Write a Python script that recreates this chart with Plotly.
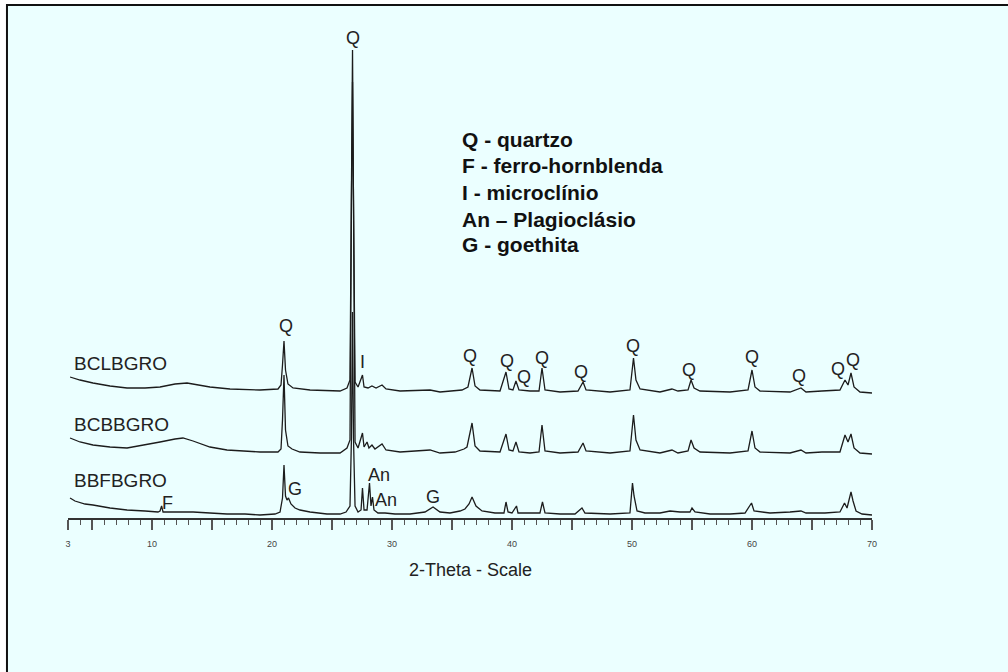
import plotly.graph_objects as go

# X-ray diffraction patterns (2-theta in degrees, intensity in arbitrary counts)
bbf_2theta = [3.17, 3.58, 4.42, 5.08, 6.5, 7.92, 9.42, 10.5, 10.67, 10.8, 10.92, 12.33, 13.42,
              14.83, 16.25, 17.75, 19.0, 20.25, 20.67, 20.875, 21.0, 21.125, 21.25, 21.375,
              21.58, 21.92, 22.33, 23.17, 24.58, 25.67, 26.17, 26.5, 26.62, 26.71, 26.79,
              26.92, 27.17, 27.42, 27.54, 27.67, 27.92, 28.125, 28.25, 28.375, 28.5, 28.83,
              29.42, 30.25, 31.5, 32.75, 33.42, 34.0, 34.83, 35.67, 36.08, 36.42, 36.67,
              37.0, 37.5, 38.58, 39.33, 39.5, 39.67, 40.0, 40.375, 40.5, 41.5, 42.33, 42.54,
              42.75, 44.0, 45.25, 45.83, 46.08, 48.17, 49.83, 50.04, 50.17, 50.42, 51.08,
              52.33, 53.17, 54.0, 54.83, 55.0, 55.25, 56.5, 58.17, 59.42, 59.96, 60.17,
              61.5, 63.17, 64.08, 64.5, 66.08, 67.33, 67.71, 67.92, 68.25, 68.42, 68.67,
              69.17, 70.0]
bbf_counts = [20, 17, 14, 13, 10, 8, 7, 6, 7, 12, 6, 6, 6,
              5, 4, 4, 3, 4, 6, 20, 53, 22, 18, 20,
              14, 10, 8, 6, 4, 4, 6, 12, 80, 206, 80,
              12, 6, 8, 30, 8, 8, 35, 12, 21, 8, 5,
              5, 4, 4, 6, 11, 6, 5, 7, 9, 14, 21,
              12, 7, 5, 5, 16, 6, 5, 12, 5, 5, 5, 16,
              5, 4, 4, 10, 5, 4, 5, 35, 22, 7, 5,
              5, 7, 6, 6, 10, 6, 4, 4, 5, 15, 7,
              5, 6, 7, 5, 5, 6, 15, 10, 26, 17, 7,
              4, 3]

bcb_2theta = [3.17, 4.0, 5.08, 6.5, 7.92, 9.42, 10.67, 11.92, 12.58, 13.42, 14.83, 16.25,
              17.75, 19.0, 20.5, 20.75, 20.875, 21.0, 21.125, 21.33, 21.67, 22.33, 24.0,
              25.67, 26.25, 26.5, 26.62, 26.71, 26.79, 26.92, 27.17, 27.54, 27.67, 27.92,
              28.08, 28.33, 28.58, 29.17, 29.5, 30.67, 33.17, 34.0, 35.25, 36.0, 36.25,
              36.67, 36.92, 37.33, 39.0, 39.5, 39.75, 40.08, 40.33, 40.58, 41.5, 42.25,
              42.5, 42.75, 44.0, 45.5, 45.92, 46.17, 48.17, 49.83, 50.125, 50.33, 50.67,
              52.33, 53.33, 53.83, 54.67, 54.92, 55.17, 55.67, 58.17, 59.67, 60.0, 60.25,
              60.67, 63.17, 64.08, 64.5, 65.83, 67.33, 67.75, 68.0, 68.25, 68.5, 69.0, 70.0]
bcb_counts = [19, 15, 12, 10, 9, 12, 15, 18, 19, 16, 10, 7,
              6, 5, 5, 8, 37, 82, 27, 11, 8, 5, 4,
              4, 9, 17, 257, 375, 257, 15, 9, 24, 10, 15,
              9, 12, 8, 13, 7, 5, 7, 4, 5, 8, 10,
              34, 11, 6, 5, 23, 7, 6, 15, 5, 4, 5,
              32, 6, 4, 5, 14, 6, 4, 6, 42, 17, 7,
              4, 7, 4, 6, 17, 9, 5, 4, 6, 26, 9,
              5, 4, 7, 4, 5, 5, 22, 15, 23, 9, 4, 3]

bcl_2theta = [3.17, 4.0, 5.08, 6.5, 7.92, 9.42, 10.67, 11.92, 12.92, 14.0, 14.83, 16.5,
              19.0, 20.5, 20.75, 20.875, 21.0, 21.125, 21.33, 21.75, 23.17, 25.67, 26.25,
              26.5, 26.62, 26.71, 26.79, 26.92, 27.17, 27.54, 27.67, 28.0, 28.33, 28.67,
              29.17, 29.5, 30.67, 33.17, 34.0, 35.83, 36.33, 36.67, 36.92, 37.33, 39.0,
              39.5, 39.75, 40.08, 40.33, 40.58, 41.5, 42.25, 42.5, 42.75, 44.0, 45.5, 45.92,
              46.17, 48.17, 49.83, 50.125, 50.33, 50.67, 52.33, 53.33, 53.83, 54.67, 54.92,
              55.17, 55.67, 58.17, 59.67, 60.0, 60.25, 60.67, 63.17, 64.08, 64.5, 65.83,
              67.33, 67.75, 68.0, 68.25, 68.5, 69.0, 70.0]
bcl_counts = [19, 16, 13, 10, 8, 8, 9, 12, 13, 11, 9, 7,
              6, 7, 11, 31, 55, 26, 12, 8, 6, 5, 8,
              16, 196, 346, 196, 14, 9, 21, 9, 8, 10, 8,
              11, 7, 5, 6, 4, 6, 9, 28, 10, 6, 5,
              24, 7, 6, 15, 6, 5, 5, 28, 6, 4, 5, 14,
              6, 4, 6, 38, 16, 7, 4, 7, 5, 6, 16,
              8, 5, 4, 6, 26, 9, 5, 4, 8, 4, 5,
              6, 16, 11, 23, 9, 4, 3]

sample_names = ["BBFBGRO", "BCBBGRO", "BCLBGRO"]
stack_offsets = [0, 61, 122]

# Axis ticks
tick_vals = [3, 5, 10, 15, 20, 25, 30, 35, 40, 45, 50, 55, 60, 65, 70]
tick_text = ["3", "", "10", "", "20", "", "30", "", "40", "", "50", "", "60", "", "70"]

# Phase legend
phase_legend = ["Q - quartzo", "F - ferro-hornblenda", "I - microclínio",
                "An \u2013 Plagioclásio", "G - goethita"]

# Phase labels: (text, 2-theta, height)
phase_labels = [
    ("Q", 26.71, 480), ("Q", 21.17, 192), ("I", 27.58, 156), ("Q", 36.5, 162),
    ("Q", 39.58, 157), ("Q", 41.0, 141), ("Q", 42.5, 160), ("Q", 45.75, 146),
    ("Q", 50.08, 172), ("Q", 54.75, 148), ("Q", 60.0, 161), ("Q", 63.92, 142),
    ("Q", 67.17, 149), ("Q", 68.42, 158),
    ("F", 11.25, 15), ("G", 21.92, 29), ("An", 28.875, 43.5), ("An", 29.54, 18.5),
    ("G", 33.375, 21.5),
]
name_heights = [38, 94, 155]

FONT = "Liberation Sans, Arial, sans-serif"
LINE = "#1c1c1c"

fig = go.Figure()
for name, off, xs, ys in zip(sample_names, stack_offsets,
                             [bbf_2theta, bcb_2theta, bcl_2theta],
                             [bbf_counts, bcb_counts, bcl_counts]):
    fig.add_trace(go.Scatter(
        x=xs, y=[v + off for v in ys], mode="lines", name=name,
        line=dict(color=LINE, width=1.3), showlegend=False, hoverinfo="skip",
    ))

annotations = []
for text, tx, ty in phase_labels:
    annotations.append(dict(x=tx, y=ty, xref="x", yref="y", text=text, showarrow=False,
                            xanchor="center", yanchor="middle",
                            font=dict(family=FONT, size=18, color="#222")))
for name, h in zip(sample_names, name_heights):
    annotations.append(dict(x=3.33, y=h, xref="x", yref="y", text=name, showarrow=False,
                            xanchor="left", yanchor="middle",
                            font=dict(family=FONT, size=19, color="#222")))
legend_heights = [378.5, 352.5, 325.5, 298.5, 273.5]
for text, h in zip(phase_legend, legend_heights):
    annotations.append(dict(x=35.67, y=h, xref="x", yref="y", text="<b>" + text + "</b>",
                            showarrow=False, xanchor="left", yanchor="middle",
                            font=dict(family=FONT, size=21, color="#111")))
annotations.append(dict(x=0.5, y=-0.104, xref="paper", yref="paper", text="2-Theta - Scale",
                        showarrow=False, xanchor="center", yanchor="middle",
                        font=dict(family=FONT, size=18, color="#222")))

fig.update_layout(
    width=1008, height=672,
    margin=dict(l=68, r=136, t=18, b=154),
    paper_bgcolor="white", plot_bgcolor="rgba(0,0,0,0)",
    annotations=annotations,
    shapes=[dict(type="rect", xref="paper", yref="paper",
                 x0=-0.0759, x1=1.2, y0=-0.37, y1=1.026,
                 line=dict(color="#111", width=2), fillcolor="#EBFFFF", layer="below")],
    xaxis=dict(range=[3, 70], showgrid=False, zeroline=False,
               showline=True, linecolor="#333", linewidth=1.5,
               tickmode="array", tickvals=tick_vals, ticktext=tick_text,
               ticks="outside", ticklen=10, tickwidth=1.5, tickcolor="#555",
               ticklabelstandoff=6,
               tickfont=dict(family=FONT, size=9, color="#444"),
               minor=dict(dtick=1, tick0=0, ticks="outside", ticklen=5,
                          tickwidth=1.2, tickcolor="#555", showgrid=False)),
    yaxis=dict(range=[0, 500], visible=False, showgrid=False, zeroline=False),
)

fig.write_html("out.html")
